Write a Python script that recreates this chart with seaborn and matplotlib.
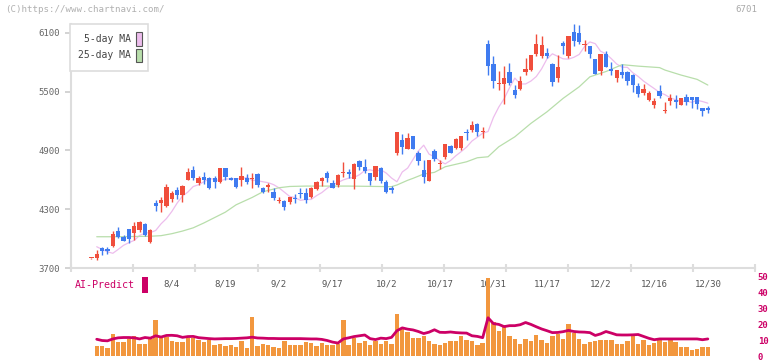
import matplotlib.pyplot as plt
import matplotlib.patches as mpatches
import numpy as np
import pandas as pd
import seaborn as sns

nan = np.nan

# trading days shown (Tokyo market, holidays removed)
HOLIDAYS = ["2025-07-21", "2025-08-11", "2025-09-15", "2025-09-23",
            "2025-10-13", "2025-11-03", "2025-11-24"]
TICK_LABELS = ["8/4", "8/19", "9/2", "9/17", "10/2", "10/17",
               "10/31", "11/17", "12/2", "12/16", "12/30"]

OPEN = [3798, 3805, 3904, 3894, 3924, 4077, 4013, 4098, 4054, 4088,
        4149, 3968, 4366, 4360, 4332, 4404, 4496, 4441, 4598, 4700,
        4571, 4629, 4622, 4622, 4581, 4723, 4622, 4622, 4602, 4622,
        4605, 4659, 4520, 4530, 4479, 4387, 4387, 4373, 4411, 4470,
        4470, 4421, 4506, 4591, 4666, 4571, 4547, 4666, 4676, 4608,
        4791, 4733, 4672, 4632, 4723, 4581, 4513, 4870, 5006, 4911,
        5047, 4877, 4700, 4591, 4889, 4760, 4829, 4945, 4928, 4928,
        5084, 5108, 5166, 5088, 5991, 5781, 5575, 5574, 5696, 5516,
        5530, 5703, 5720, 5883, 5862, 5897, 5781, 5642, 5995, 5866,
        6107, 6097, 5975, 5965, 5832, 5709, 5883, 5730, 5642, 5696,
        5703, 5669, 5560, 5482, 5414, 5363, 5506, 5300, 5404, 5414,
        5363, 5448, 5444, 5448, 5336, 5336]
HIGH = [3806, 3884, 3917, 3917, 4077, 4121, 4037, 4098, 4172, 4182,
        4155, 4095, 4394, 4427, 4560, 4482, 4530, 4547, 4723, 4744,
        4642, 4684, 4629, 4642, 4723, 4723, 4632, 4622, 4730, 4656,
        4666, 4673, 4530, 4571, 4513, 4428, 4394, 4428, 4452, 4513,
        4513, 4530, 4591, 4632, 4693, 4598, 4659, 4781, 4710, 4774,
        4801, 4810, 4672, 4740, 4733, 4598, 4540, 5090, 5067, 5074,
        5047, 4894, 4802, 4802, 4911, 4802, 4965, 4955, 5030, 5047,
        5118, 5197, 5176, 5135, 6026, 5862, 5710, 5761, 5795, 5567,
        5662, 5847, 5873, 6087, 6067, 5941, 5795, 5873, 6016, 6067,
        6186, 6179, 6026, 5965, 5832, 5883, 5913, 5804, 5720, 5781,
        5713, 5679, 5584, 5577, 5506, 5431, 5567, 5390, 5475, 5465,
        5431, 5475, 5448, 5448, 5336, 5356]
LOW = [3796, 3782, 3833, 3843, 3914, 4006, 3972, 3952, 3986, 4071,
       4030, 3958, 4281, 4271, 4325, 4374, 4404, 4376, 4598, 4598,
       4547, 4561, 4506, 4513, 4571, 4598, 4595, 4513, 4540, 4561,
       4520, 4530, 4462, 4479, 4394, 4360, 4292, 4350, 4360, 4411,
       4360, 4411, 4496, 4540, 4581, 4513, 4530, 4632, 4622, 4506,
       4700, 4666, 4547, 4598, 4564, 4462, 4469, 4850, 4860, 4911,
       4914, 4751, 4571, 4591, 4792, 4710, 4812, 4870, 4914, 4905,
       5006, 5084, 5050, 5030, 5669, 5540, 5516, 5370, 5567, 5438,
       5520, 5669, 5710, 5866, 5845, 5838, 5557, 5601, 5880, 5838,
       5968, 5985, 5914, 5845, 5679, 5669, 5753, 5669, 5601, 5635,
       5570, 5492, 5448, 5465, 5404, 5336, 5431, 5284, 5363, 5336,
       5363, 5363, 5336, 5326, 5254, 5281]
CLOSE = [3804, 3843, 3877, 3877, 4047, 4013, 3980, 3993, 4128, 4169,
         4037, 4088, 4332, 4394, 4529, 4470, 4445, 4537, 4676, 4622,
         4622, 4595, 4520, 4575, 4723, 4632, 4602, 4527, 4639, 4575,
         4612, 4547, 4479, 4540, 4411, 4394, 4326, 4421, 4400, 4455,
         4394, 4520, 4581, 4622, 4622, 4520, 4649, 4673, 4656, 4761,
         4733, 4689, 4591, 4740, 4591, 4479, 4500, 5090, 4938, 5030,
         4914, 4795, 4632, 4802, 4815, 4770, 4965, 4877, 5013, 5047,
         5077, 5159, 5084, 5095, 5763, 5611, 5582, 5642, 5591, 5465,
         5611, 5730, 5873, 5985, 5975, 5866, 5601, 5747, 5968, 6067,
         6013, 6002, 5985, 5880, 5679, 5883, 5753, 5713, 5720, 5669,
         5607, 5567, 5475, 5526, 5482, 5404, 5458, 5310, 5431, 5390,
         5431, 5390, 5414, 5370, 5305, 5310]

# 5-day MA for the first days (earlier closes are off-chart)
MA5_HEAD = [3917, 3890, 3866, 3850]

# 25-day MA (day index, value)
MA25_DAY = [1, 5, 11, 13, 15, 17, 19, 21, 23, 25, 27, 30, 32, 35, 37, 40,
            48, 56, 57, 59, 60, 62, 64, 66, 70, 72, 74, 76, 79, 82, 85, 88,
            91, 93, 96, 99, 102, 106, 107, 110, 113, 115]
MA25 = [4019, 4019, 4024, 4030, 4050, 4077, 4110, 4160, 4215, 4270, 4345,
        4420, 4478, 4519, 4532, 4536, 4536, 4530, 4547, 4595, 4615, 4659,
        4676, 4733, 4784, 4825, 4835, 4937, 5039, 5176, 5294, 5431, 5549,
        5651, 5705, 5775, 5760, 5745, 5720, 5669, 5625, 5567]

VOLUME = [nan, 6.5, 6.5, 5.0, 13.8, 8.8, 8.8, 10.6, 12.9, 7.5, 7.5,
          10.6, 22.5, 11.7, 12.3, 9.6, 8.8, 8.8, 11.7, 11.7, 10.2,
          8.8, 10.2, 6.7, 7.5, 6.3, 6.7, 5.8, 9.2, 5.0, 24.4,
          6.5, 7.5, 6.7, 5.4, 5.0, 9.2, 6.7, 6.7, 6.7, 8.8,
          8.1, 6.5, 8.1, 7.1, 6.7, 7.5, 23.1, 6.7, 11.3, 8.1,
          9.6, 6.7, 9.2, 7.5, 9.2, 7.5, 26.3, 16.9, 15.0, 11.5,
          11.5, 12.9, 9.2, 7.5, 6.7, 8.5, 9.4, 9.4, 12.5, 10.0,
          9.4, 6.7, 8.1, 49.4, 21.3, 15.8, 19.6, 12.7, 10.6, 7.5,
          10.6, 9.6, 13.1, 10.0, 8.1, 12.9, 13.8, 10.6, 20.0, 14.8,
          10.6, 7.5, 8.8, 9.6, 10.0, 10.0, 10.0, 7.5, 7.5, 9.6,
          12.9, 7.5, 10.2, 6.7, 8.1, 11.3, 8.8, 10.2, 8.8, 6.0,
          5.4, 4.0, 4.4, 6.0, 5.6]
AI_PREDICT = [nan, 10.6, 9.8, 9.6, 10.8, 11.5, 11.7, 11.7, 11.5, 10.8, 11.7,
              11.3, 12.8, 12.0, 13.0, 13.1, 12.8, 11.8, 12.3, 12.4, 11.6,
              11.3, 11.0, 10.8, 10.9, 11.0, 11.0, 11.1, 11.3, 11.5, 11.9,
              11.4, 11.3, 11.1, 11.1, 11.0, 11.0, 11.0, 11.0, 11.0, 10.9,
              10.8, 10.8, 10.5, 9.8, 8.8, 8.2, 10.8, 11.5, 12.3, 12.8,
              13.3, 11.0, 10.4, 11.3, 11.0, 11.8, 16.0, 17.8, 17.0, 16.5,
              15.5, 14.2, 15.1, 16.6, 15.0, 14.9, 15.2, 14.8, 14.6, 14.5,
              12.8, 12.4, 11.6, 24.2, 20.5, 20.0, 18.6, 19.2, 19.2, 19.8,
              21.2, 20.0, 18.5, 17.1, 16.0, 14.8, 14.9, 15.4, 16.2, 15.5,
              15.2, 15.1, 14.8, 13.0, 14.0, 15.5, 14.5, 13.4, 13.3, 13.3,
              13.4, 13.6, 12.4, 11.2, 10.3, 10.8, 10.8, 10.8, 10.8, 10.8,
              10.8, 10.8, 10.8, 10.3, 10.8]

RED = "#F04E3C"
BLUE = "#3F7BF0"
PINK = "#EDBDED"
GREEN = "#B8DEAB"
ORANGE = "#F2973E"
CRIMSON = "#CC0066"
AXIS_GRAY = "#dddddd"

W, H = 772, 361
XLIM = (-3.8, 123.8)

sns.set_theme(style="white")
plt.rcParams["font.family"] = ["DejaVu Sans Mono", "DejaVu Sans"]


def fx(px):
    return px / W


def fy(py):
    return 1 - py / H


def main() -> None:
    dates = pd.bdate_range("2025-07-11", "2025-12-30", freq="C", holidays=HOLIDAYS)
    day_labels = [f"{d.month}/{d.day}" for d in dates]
    df = pd.DataFrame({
        "day": np.arange(len(dates)),
        "open": OPEN, "high": HIGH, "low": LOW, "close": CLOSE,
        "volume": VOLUME, "ai": AI_PREDICT,
    })
    # chartnavi plots the 5-day MA of the previous five closes
    ma5 = df["close"].rolling(5).mean().shift(1)
    ma5.iloc[1:5] = MA5_HEAD
    df["ma5"] = ma5
    ma25 = pd.DataFrame({"day": MA25_DAY, "ma25": MA25})

    fig = plt.figure(figsize=(W / 100, H / 100), dpi=100)
    ax = fig.add_axes([fx(71), fy(268), fx(755) - fx(71), fy(24) - fy(268)])
    axv = fig.add_axes([fx(71), fy(356), fx(755) - fx(71), fy(277) - fy(356)])

    # moving averages
    sns.lineplot(data=df, x="day", y="ma5", ax=ax, color=PINK, linewidth=0.9, zorder=1)
    sns.lineplot(data=ma25, x="day", y="ma25", ax=ax, color=GREEN, linewidth=0.9, zorder=1)

    # candles
    up = df["close"] >= df["open"]
    colors = np.where(up, RED, BLUE)
    ax.vlines(df["day"], df["low"], df["high"], colors=colors, linewidth=1.0, zorder=2)
    body_lo = np.minimum(df["open"], df["close"])
    body_h = np.maximum((df["close"] - df["open"]).abs(), 12)
    ax.bar(df["day"], body_h, bottom=body_lo, width=0.8, color=colors,
           linewidth=0, zorder=3)

    ax.set_xlim(*XLIM)
    ax.set_ylim(3700, 6190)
    ax.set_yticks([3700, 4300, 4900, 5500, 6100])
    ax.set_xlabel("")
    ax.set_ylabel("")
    for side in ["top", "right"]:
        ax.spines[side].set_visible(False)
    for side in ["left", "bottom"]:
        ax.spines[side].set_color(AXIS_GRAY)
        ax.spines[side].set_linewidth(1.5)
    ax.tick_params(axis="y", length=4, width=1.2, color="#cccccc", direction="out",
                   labelsize=6.5, labelcolor="#666666", pad=4, left=True)
    label_pos = [day_labels.index(t) for t in TICK_LABELS]
    ax.set_xticks(label_pos)
    ax.set_xticklabels(TICK_LABELS)
    ax.set_xticks(np.linspace(XLIM[0], XLIM[1], 12), minor=True)
    ax.tick_params(axis="x", which="major", length=0, labelsize=6.5,
                   labelcolor="#555555", pad=8)
    ax.tick_params(axis="x", which="minor", length=6, width=1.5, color=AXIS_GRAY,
                   direction="inout", bottom=True)
    ax.grid(False)

    # volume + AI-Predict
    sns.barplot(data=df, x="day", y="volume", ax=axv, native_scale=True,
                color=ORANGE, saturation=1, width=0.82, errorbar=None,
                linewidth=0, zorder=1)
    sns.lineplot(data=df, x="day", y="ai", ax=axv, color=CRIMSON, linewidth=2.0, zorder=3)
    axv.set_xlim(*XLIM)
    axv.set_ylim(0, 50)
    axv.set_xticks([])
    axv.set_yticks([0, 10, 20, 30, 40, 50])
    axv.yaxis.tick_right()
    axv.tick_params(axis="y", length=0, labelsize=6.5, labelcolor=CRIMSON, pad=2)
    for lbl in axv.get_yticklabels():
        lbl.set_fontweight("bold")
    axv.set_xlabel("")
    axv.set_ylabel("")
    for side in axv.spines:
        axv.spines[side].set_visible(False)
    axv.patch.set_alpha(0)
    axv.grid(False)

    # legend box
    fig.patches.append(mpatches.Rectangle((fx(70), fy(71)), fx(148) - fx(70), fy(24) - fy(71),
                                          transform=fig.transFigure, facecolor="white",
                                          edgecolor=AXIS_GRAY, linewidth=1.2, zorder=5))
    for text, color, top, bot in [("5-day MA", PINK, 31, 47), ("25-day MA", GREEN, 48, 63)]:
        fig.text(fx(131), fy((top + bot) / 2), text, ha="right", va="center",
                 fontsize=7, color="#444444", zorder=6)
        fig.patches.append(mpatches.Rectangle((fx(136), fy(bot - 1)), fx(142) - fx(136),
                                              fy(top + 1) - fy(bot - 1),
                                              transform=fig.transFigure, facecolor=color,
                                              edgecolor="#555555", linewidth=0.8, zorder=6))

    fig.text(fx(75), fy(285), "AI-Predict", ha="left", va="center",
             fontsize=7.2, color=CRIMSON)
    fig.patches.append(mpatches.Rectangle((fx(142), fy(293)), fx(148) - fx(142), fy(277) - fy(293),
                                          transform=fig.transFigure, facecolor=CRIMSON,
                                          edgecolor="none"))

    fig.text(fx(5), fy(10), "(C)https://www.chartnavi.com/", ha="left", va="center",
             fontsize=6.6, color="#b0b0b0")
    fig.text(fx(757), fy(10), "6701", ha="right", va="center", fontsize=6.6, color="#aaaaaa")

    fig.savefig("out.png", dpi=100)
    plt.close(fig)


if __name__ == "__main__":
    main()
